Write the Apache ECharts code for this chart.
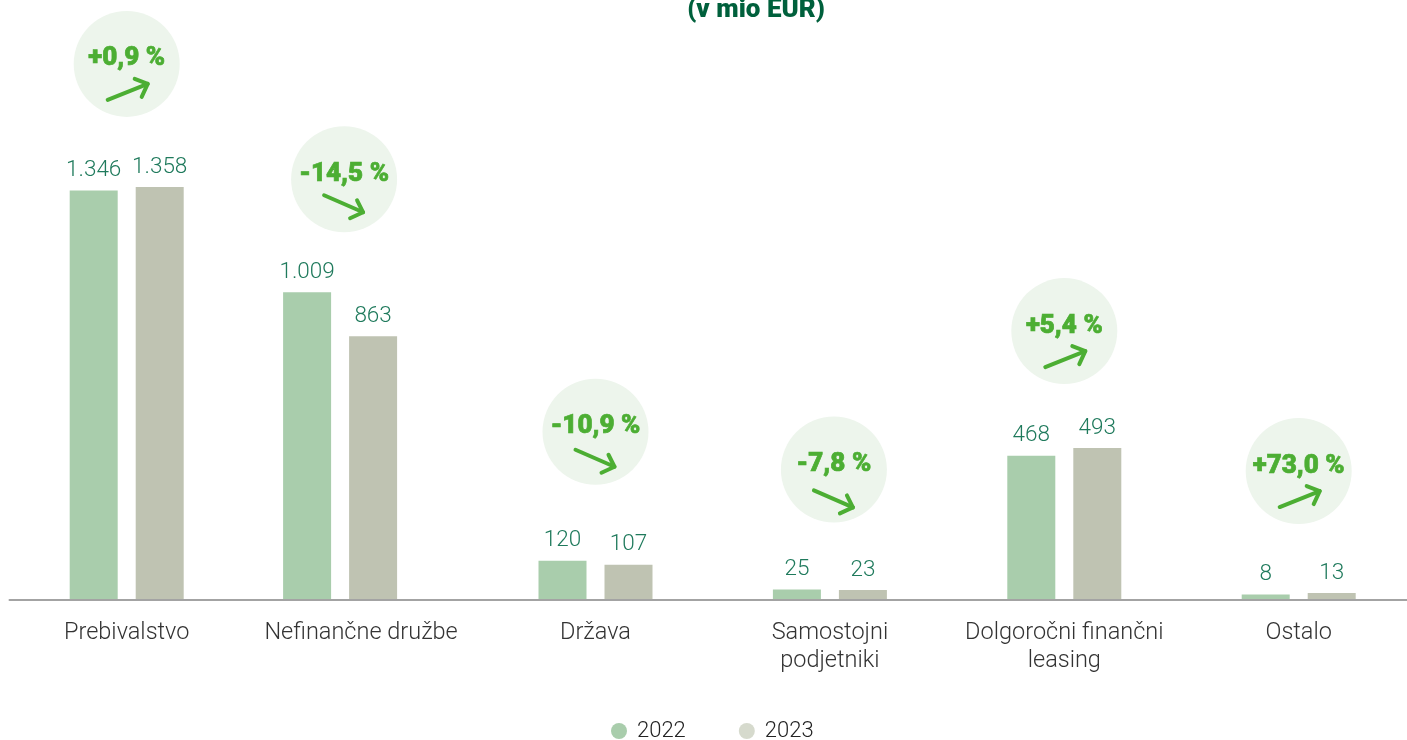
<!DOCTYPE html>
<html><head><meta charset="utf-8">
<style>html,body{margin:0;padding:0;background:#fff}#c{width:1407px;height:740px}</style>
<script src="https://cdn.jsdelivr.net/npm/echarts@6/dist/echarts.min.js"></script>
</head><body><div id="c"></div>
<script>
const categories = ['Prebivalstvo','Nefinančne družbe','Država','Samostojni\npodjetniki','Dolgoročni finančni\nleasing','Ostalo'];
const values2022 = [1346,1009,120,25,468,8];
const values2023 = [1358,863,107,23,493,13];
const labels2022 = ['1.346','1.009','120','25','468','8'];
const labels2023 = ['1.358','863','107','23','493','13'];
const changes = ['+0,9 %','-14,5 %','-10,9 %','-7,8 %','+5,4 %','+73,0 %'];

const groupShift = [0,-21,0,0,0,0];
const bubbleShift = [0,-17,0,4,0,0];
const bubbleLift = [123,113,129,120,117,122];
const arrowDrop = [0,-2,0,3,0,0];
const BAR_W = 48, BAR_OFF = 33, R = 53, Y_MIN = -10;
const LABEL_FONT = 'Roboto', HEAVY_FONT = 'Roboto';

function barSeries(name, color, labels, data, sign){
  return {
    type:'custom', name, z:3, clip:false,
    itemStyle:{color},
    data:data.map((v,i)=>[i,v]),
    encode:{x:0,y:1},
    renderItem(params,api){
      const i = api.value(0), top = api.coord([i,api.value(1)]), base = api.coord([i,Y_MIN]);
      const cx = top[0]+groupShift[i]+sign*BAR_OFF;
      return {type:'group',children:[
        {type:'rect',shape:{x:cx-BAR_W/2,y:top[1],width:BAR_W,height:base[1]-top[1]},style:{fill:color}},
        {type:'text',style:{x:cx,y:top[1]-20,text:labels[i],fill:'#1f7a5c',font:'300 22.5px '+LABEL_FONT,align:'center',verticalAlign:'middle'}}
      ]};
    }
  };
}

const option = {
  animation:false,
  backgroundColor:'#fff',
  title:{text:'(v mio EUR)',left:756,textAlign:'center',top:-3,padding:0,textStyle:{color:'#00603c',fontFamily:HEAVY_FONT,fontWeight:900,fontSize:26}},
  grid:{left:9.5,width:1406.4,top:144,height:456,outerBoundsMode:'none',containLabel:false},
  xAxis:{type:'category',data:categories,z:5,
    axisLine:{onZero:false,lineStyle:{color:'#a3a3a3',width:2}},axisTick:{show:false},
    axisLabel:{interval:0,margin:19,fontFamily:LABEL_FONT,fontWeight:300,fontSize:23.5,lineHeight:28,color:'#333',verticalAlign:'top'}},
  yAxis:{type:'value',min:Y_MIN,max:1500,show:false},
  legend:{left:611,top:720,padding:0,icon:'circle',itemWidth:16,itemHeight:16,itemGap:53,selectedMode:false,
    textStyle:{fontFamily:LABEL_FONT,fontWeight:300,fontSize:22,color:'#222',padding:[0,0,0,5]},
    data:[{name:'2022',itemStyle:{color:'#a9cdac'}},{name:'2023',itemStyle:{color:'#d6dacd'}}]},
  series:[
    barSeries('2022','#a9cdac',labels2022,values2022,-1),
    barSeries('2023','#bfc3b2',labels2023,values2023,1),
    {type:'custom',name:'Sprememba',z:4,clip:false,silent:true,
     data:categories.map((c,i)=>[i,Math.max(values2022[i],values2023[i])]),
     encode:{x:0,y:1},
     renderItem(params,api){
       const i = api.value(0), p = api.coord([i,api.value(1)]);
       const cx = p[0]+bubbleShift[i], cy = p[1]-bubbleLift[i];
       const up = changes[i][0]==='+', d = arrowDrop[i];
       const a = up ? [[-19,36],[21,20],[8,15],[15,33]] : [[-20,18],[19,35],[13,23],[6,41]];
       const s = {stroke:'#4cae33',lineWidth:4,lineCap:'round',lineJoin:'round',fill:null};
       const pt = q=>[cx+q[0],cy+q[1]+d];
       return {type:'group',children:[
         {type:'circle',shape:{cx,cy,r:R},style:{fill:'#edf5ec'}},
         {type:'text',style:{x:cx,y:cy-5,text:changes[i],fill:'#4cae33',stroke:'#4cae33',lineWidth:0.7,font:'900 26px '+HEAVY_FONT,align:'center',verticalAlign:'middle'}},
         {type:'polyline',shape:{points:[pt(a[0]),pt(a[1])]},style:s},
         {type:'polyline',shape:{points:[pt(a[2]),pt(a[1]),pt(a[3])]},style:s}
       ]};
     }}
  ]
};
echarts.init(document.getElementById('c'),null,{renderer:'canvas'}).setOption(option);
</script></body></html>
